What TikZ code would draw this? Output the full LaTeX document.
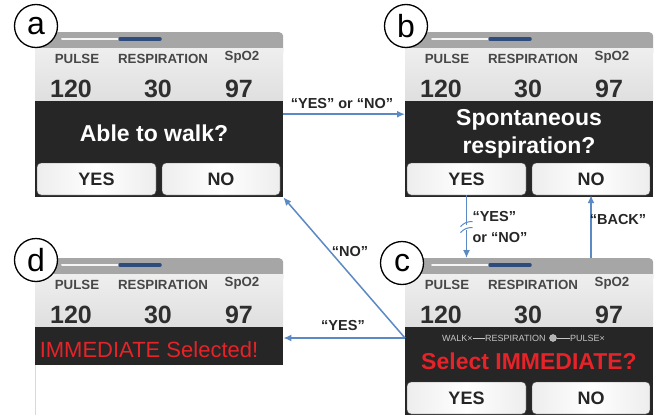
\documentclass[tikz,border=0pt]{standalone}
\usepackage{fontspec}
\setmainfont{Liberation Sans}
\usepackage{tikz}
\usetikzlibrary{arrows.meta,positioning,calc}
\usepackage{xcolor}
\definecolor{flowblue}{RGB}{91,137,196}
\definecolor{bargray}{RGB}{166,166,166}
\definecolor{bandgray}{RGB}{38,38,38}
\definecolor{navy}{RGB}{45,75,125}
\definecolor{alertred}{RGB}{230,35,40}

\begin{document}
\begin{tikzpicture}[x=1pt, y=-1pt, every node/.style={font=\bfseries}]
\tikzset{topbar/.style={fill=bargray, rounded corners=4pt, minimum width=248pt, minimum height=24pt, inner sep=0pt, anchor=north west}}
\tikzset{band/.style={fill=bandgray, minimum width=248pt, inner sep=0pt, anchor=north west}}
\tikzset{btn/.style={draw=black!70, rounded corners=4pt, left color=gray!14, right color=gray!14, middle color=white, minimum height=32pt, inner sep=0pt, text=black!85, font=\fontsize{18}{18}\selectfont\bfseries}}
\tikzset{hdr/.style={text=black!72, font=\fontsize{13.3}{13}\selectfont\bfseries}}
\tikzset{num/.style={text=black!82, font=\fontsize{25}{25}\selectfont\bfseries}}
\tikzset{tag/.style={circle, draw, fill=white, line width=1.3pt, minimum size=43pt, inner sep=0pt, font=\fontsize{32}{32}\selectfont}}
\tikzset{trail/.style={text=gray!45, inner sep=0pt, font=\fontsize{9}{9}\selectfont}}
\tikzset{flow/.style={draw=flowblue, line width=1.5pt, -{Latex[length=8pt, width=7pt]}}}
\tikzset{say/.style={text=black!85, font=\fontsize{14.5}{16}\selectfont\bfseries}}
\useasboundingbox (0,0) rectangle (656,415);
% screen tops
\foreach \p/\L/\T in {a/35/32, b/405/32, c/405/258, d/35/258} {
  \node[topbar] (\p-bar) at (\L,\T) {};
  \shade[top color=gray!13, bottom color=gray!25] (\L,\T+16) rectangle (\L+248,\T+69);
  \draw[line width=2pt, line cap=round, white!92!gray] (\L+27,\T+7) -- (\L+85,\T+7);
  \draw[line width=3.5pt, line cap=round, navy] (\L+85,\T+7) -- (\L+125,\T+7);
  \node[hdr] (\p-pulse) at (\L+42,\T+27) {PULSE};
  \node[hdr] (\p-resp) at (\L+128,\T+27) {RESPIRATION};
  \node[hdr] (\p-spo) at (\L+207,\T+25) {SpO2};
  \node[num] (\p-pr) at (\L+36,\T+57) {120};
  \node[num] (\p-rr) at (\L+123,\T+57) {30};
  \node[num] (\p-sat) at (\L+204,\T+57) {97};
}
\node[band, minimum height=96pt] (a-band) at (35,101) {};
\node[band, minimum height=96pt] (b-band) at (405,101) {};
\node[band, minimum height=88pt] (c-band) at (405,327) {};
\node[band, minimum height=38pt] (d-band) at (35,327) {};
\draw[gray!30] (d-band.south west) -- ++(0,50);
% buttons
\foreach \p/\L/\Y in {a/35/179, b/405/179, c/405/398} {
  \node[btn, minimum width=119pt] (\p-yes) at (\L+61.5,\Y) {YES};
  \node[btn, minimum width=118pt] (\p-no) at (\L+186,\Y) {NO};
}
\node[text=white, font=\fontsize{23}{23}\selectfont\bfseries] (a-ask) at (154,133) {Able to walk?};
\node[text=white, align=center, font=\fontsize{23}{28}\selectfont\bfseries] (b-ask) at (529,134) {Spontaneous\\respiration?};
\node[text=alertred, font=\fontsize{23}{23}\selectfont\bfseries] (c-ask) at (529,361) {Select IMMEDIATE?};
\node[text=alertred, font=\fontsize{22}{22}\selectfont] (d-done) at (149,350) {IMMEDIATE Selected!};
\node[trail, anchor=west] (c-walk) at (442,338) {WALK×};
\node[trail, anchor=west] (c-rsp) at (485,338) {RESPIRATION};
\node[circle, fill=gray!60, draw=gray!35, inner sep=0pt, minimum size=7pt] (c-dot) at (553,338) {};
\node[trail, anchor=west] (c-pls) at (570,338) {PULSE×};
\draw[gray!45, line width=0.6pt] (c-walk) -- (c-rsp);
\draw[gray!45, line width=0.6pt] (c-dot) -- (c-pls);
% letters
\node[tag] (tag-a) at (36,26) {a};
\node[tag] (tag-b) at (406,26) {b};
\node[tag] (tag-c) at (402,263) {c};
\node[tag] (tag-d) at (36,260) {d};
% flows
\draw[flow] ([yshift=35pt]a-band.east) -- ([yshift=35pt]b-band.west);
\node[say] (l-ab) at (342,104) {“YES” or “NO”};
\draw[flow] (b-yes.south) -- coordinate (brk) (b-yes.south |- c-bar.north);
\fill[white] ([shift={(-4,-2)}]brk) rectangle ([shift={(4,3)}]brk);
\draw[flowblue, line width=1pt] ([shift={(-6,0)}]brk) to[bend left=25] ([shift={(6,-5)}]brk);
\draw[flowblue, line width=1pt] ([shift={(-6,6)}]brk) to[bend left=25] ([shift={(6,1)}]brk);
\node[say, anchor=west, align=left, font=\fontsize{14.5}{21}\selectfont\bfseries] (l-bc) at (469,227) {“YES”\\or “NO”};
\draw[flow] (b-no.south |- c-bar.north) -- (b-no.south);
\node[say] (l-back) at (618,220) {“BACK”};
\coordinate (c-out) at ([yshift=-11pt]c-band.north west);
\draw[flow] (c-out) -- (a-band.south east);
\draw[flow] (c-out) -- ([yshift=-11pt]d-band.north east);
\node[say] (l-no) at (350,252) {“NO”};
\node[say] (l-yes) at (343,326) {“YES”};
\end{tikzpicture}
\end{document}
